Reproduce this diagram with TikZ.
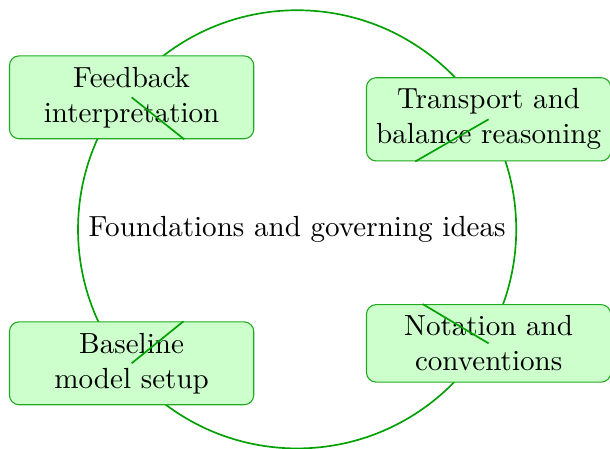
\documentclass[tikz,border=0pt]{standalone}
\usepackage{xcolor}
\usepackage{tikz}
\usetikzlibrary{positioning, calc}
\definecolor{ringgreen}{HTML}{00A000}
\definecolor{boxfill}{HTML}{CCFFCC}
\definecolor{boxedge}{HTML}{22AA22}

\begin{document}
\begin{tikzpicture}[font=\fontsize{10.5}{12.6}\selectfont,
    topic/.style={draw=boxedge, fill=boxfill, rounded corners=3.5pt, align=center,
                  minimum width=3.1cm, inner xsep=3pt, inner ysep=4pt},
    ring/.style={draw=ringgreen, semithick},
    spoke/.style={ringgreen, semithick}]
  \useasboundingbox (-3.77,-2.78) rectangle (3.97,2.91);
  % Ring and centre label
  \draw[ring] (0,0) circle (2.78);
  \node (core) at (0,0) {Foundations and governing ideas};
  % Topic boxes
  \node[topic] (feedback)  at (-2.10, 1.675) {Feedback\\interpretation};
  \node[topic] (transport) at ( 2.43, 1.396) {Transport and\\balance reasoning};
  \node[topic] (baseline)  at (-2.10,-1.70)  {Baseline\\model setup};
  \node[topic] (notation)  at ( 2.43,-1.447) {Notation and\\conventions};
  % Spokes towards the centre (only the part inside each box)
  \foreach \t in {feedback, transport, baseline, notation}{
    \path (core.center) -- (\t) coordinate[pos=1] (\t-in);
    \draw[spoke] (\t.center) -- (\t-in);
  }
\end{tikzpicture}
\end{document}
